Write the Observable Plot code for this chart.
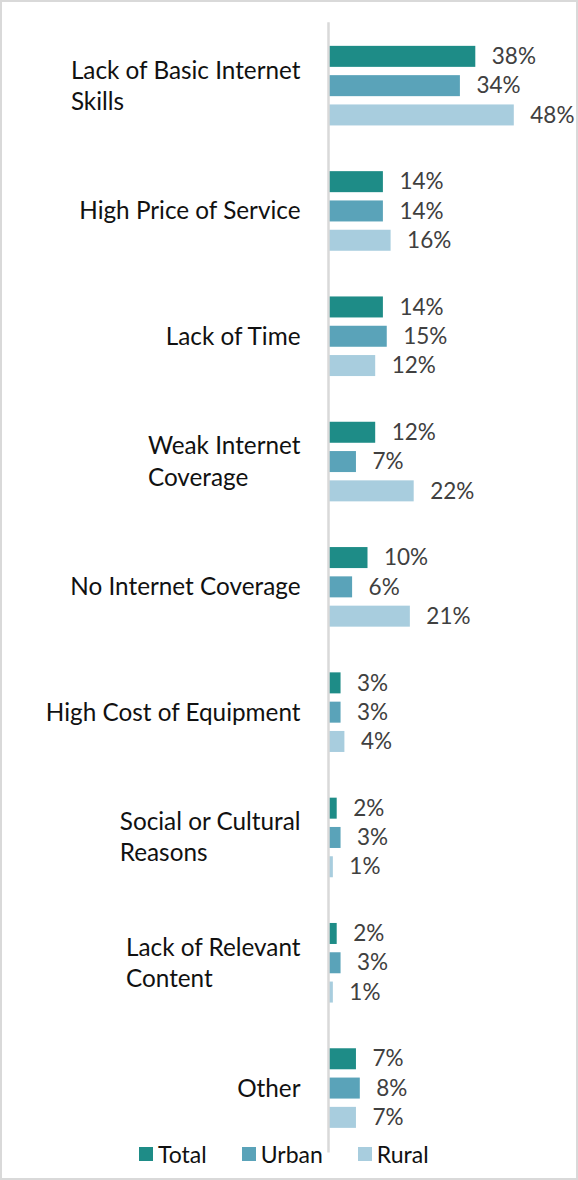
<!DOCTYPE html>
<html>
<head>
<meta charset="utf-8">
<script src="https://cdn.jsdelivr.net/npm/d3@7"></script>
<script src="https://cdn.jsdelivr.net/npm/@observablehq/plot@0.6"></script>
<style>
  html, body { margin: 0; padding: 0; background: #fff; }
  #wrap { position: relative; width: 578px; height: 1180px; overflow: hidden; font-family: Lato, sans-serif; }
  #border { position: absolute; left: 0; top: 0; width: 578px; height: 1180px; box-sizing: border-box; border: 2px solid #d9d9d9; pointer-events: none; }
  #chart { position: absolute; left: 0; top: 0; }
  #legend { position: absolute; left: 139px; top: 1137px; }
  div .lg-swatch { margin-right: 35px !important; }
  div .lg-swatch > svg { margin-right: 5px !important; }
</style>
</head>
<body>
<div id="wrap">
  <div id="chart"></div>
  <div id="legend"></div>
  <div id="border"></div>
</div>
<script>
const categories = [
  "Lack of Basic Internet\nSkills",
  "High Price of Service",
  "Lack of Time",
  "Weak Internet\nCoverage",
  "No Internet Coverage",
  "High Cost of Equipment",
  "Social or Cultural\nReasons",
  "Lack of Relevant\nContent",
  "Other"
];
const series = ["Total", "Urban", "Rural"];
const totalValues = [38, 14, 14, 12, 10, 3, 2, 2, 7];
const urbanValues = [34, 14, 15, 7, 6, 3, 3, 3, 8];
const ruralValues = [48, 16, 12, 22, 21, 4, 1, 1, 7];
const seriesColors = ["#1e8c87", "#5aa3b9", "#a8cdde"];

const seriesValues = [totalValues, urbanValues, ruralValues];
const data = categories.flatMap((c, i) =>
  series.map((s, j) => ({category: c, series: s, value: seriesValues[j][i]}))
);

const plot = Plot.plot({
  width: 578,
  height: 1140,
  marginLeft: 329,
  marginRight: 18,
  marginTop: 23,
  marginBottom: 7,
  style: {fontFamily: "Lato, sans-serif", background: "transparent", overflow: "visible"},
  x: {domain: [0, 60], axis: null},
  y: {domain: series, axis: null, paddingInner: 0.283, paddingOuter: 0.78, align: 0.5, round: false},
  fy: {domain: categories, axis: null, paddingInner: 0, paddingOuter: -0.0707, align: 0, round: false},
  color: {domain: series, range: seriesColors},
  marks: [
    Plot.barX(data, {fy: "category", y: "series", x: "value", fill: "series"}),
    Plot.text(data, {fy: "category", y: "series", x: "value", text: d => d.value + "%",
      textAnchor: "start", dx: 16, fontSize: 22.5, fill: "#404040"}),
    Plot.text(categories, {fy: d => d, text: d => d, frameAnchor: "left", textAnchor: "end",
      dx: -29, dy: -2, fontSize: 24.3, lineHeight: 1.28, fill: "#111111", className: "catlab"}),
    Plot.frame({anchor: "left", facet: "super", stroke: "#d9d9d9", strokeWidth: 2.5, dx: -1})
  ]
});
document.getElementById("chart").append(plot);

// left-align lines of multi-line category labels inside a right-aligned block
plot.querySelectorAll(".catlab text").forEach(t => {
  const spans = t.querySelectorAll("tspan");
  if (spans.length < 2) return;
  const w = Math.max(...Array.from(spans, s => s.getComputedTextLength()));
  t.setAttribute("text-anchor", "start");
  spans.forEach(s => {
    const x0 = parseFloat(s.getAttribute("x") || "0");
    s.setAttribute("x", x0 - w);
  });
});

const legend = Plot.legend({
  color: {domain: series, range: seriesColors},
  legend: "swatches",
  swatchSize: 14,
  className: "lg",
  style: {fontFamily: "Lato, sans-serif", fontSize: "23px", color: "#111111"}
});
document.getElementById("legend").append(legend);
</script>
</body>
</html>
